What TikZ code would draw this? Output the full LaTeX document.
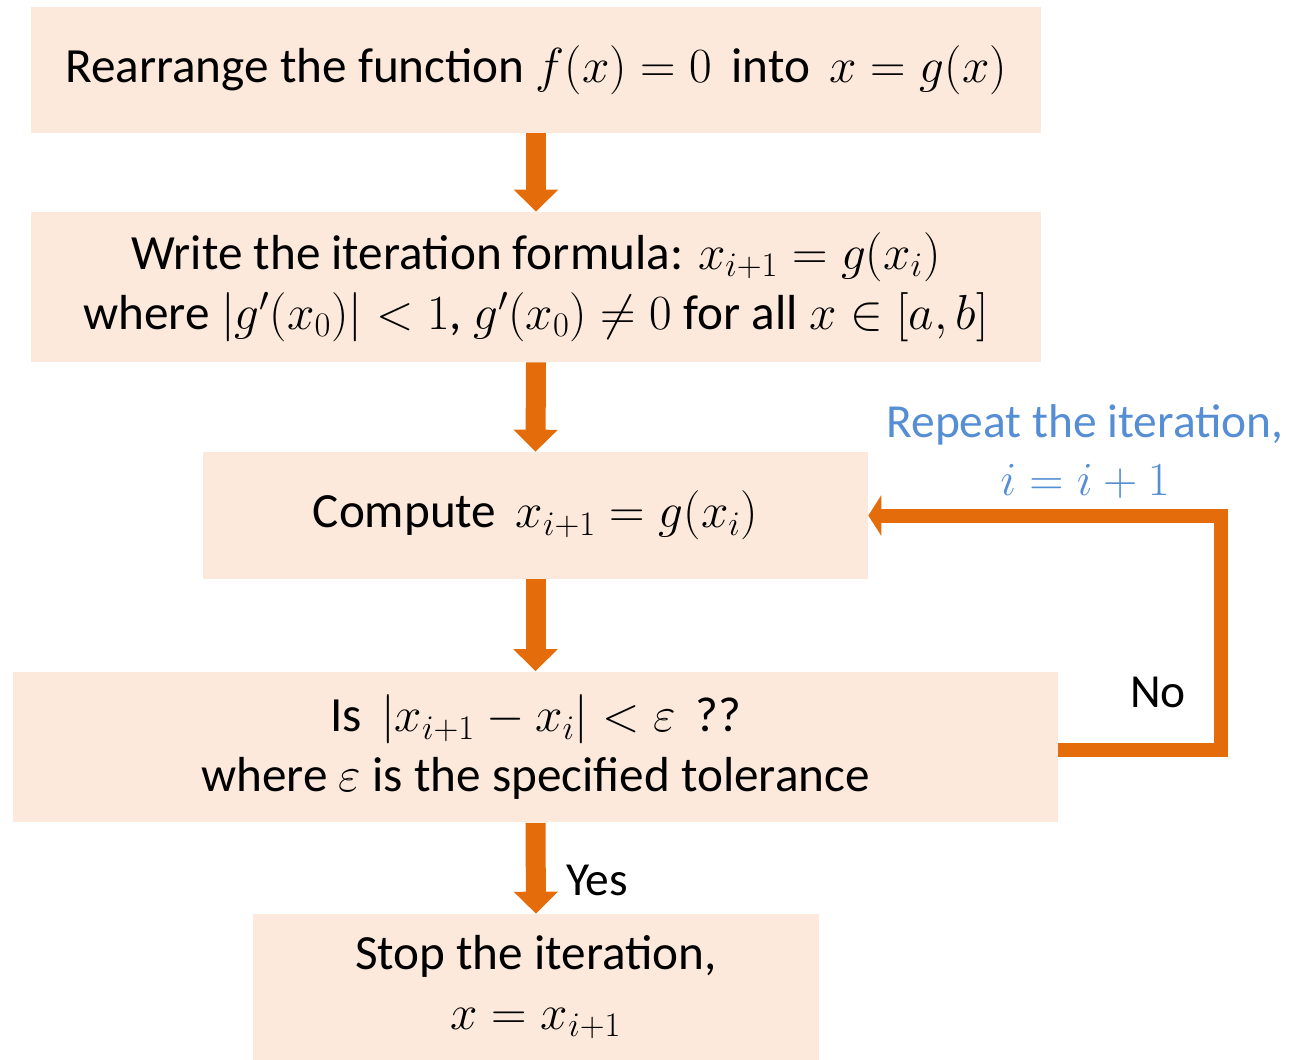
\RequirePackage{fix-cm}
\documentclass[tikz,border=0pt]{standalone}
\usepackage[no-math]{fontspec}
\setmainfont{Carlito}
\usepackage{amsmath, amssymb}
\usepackage{xcolor}
\usepackage{tikz}
\usetikzlibrary{arrows.meta, positioning}
\definecolor{boxfill}{HTML}{FCE9DB}
\definecolor{flowarr}{HTML}{E46C0A}
\definecolor{loopblue}{HTML}{558ED5}
\tikzset{
  stepbox/.style  = {rectangle, fill=boxfill, inner sep=2pt, align=center,
                     font=\fontsize{28}{34}\selectfont},
  down/.style     = {draw=flowarr, line width=0.4cm,
                     -{Triangle[width=0.86cm, length=0.44cm]}},
  back/.style     = {draw=flowarr, line width=0.28cm, line join=miter,
                     -{Triangle[width=0.8cm, length=0.26cm]}},
  tag/.style      = {font=\fontsize{27}{33}\selectfont, inner sep=0pt},
}
\begin{document}
\begin{tikzpicture}[x=0.02cm, y=-0.02cm]
  \useasboundingbox (0,0) rectangle (1289,1059);
  % ---- boxes
  \node[stepbox, minimum width=20.2cm, minimum height=2.52cm] (rearr) at (536,70)
    {Rearrange the function $f(x)=0$\, into\, $x=g(x)$};
  \node[stepbox, minimum width=20.2cm, minimum height=3.0cm] (formula) at (536,287)
    {Write the iteration formula: $x_{i+1}=g(x_i)$\\
     where $|g'(x_0)|<1$, $g'(x_0)\neq 0$ for all $x\in[a,b]$};
  \node[stepbox, minimum width=13.3cm, minimum height=2.54cm] (comp) at (535.5,515.5)
    {Compute\, $x_{i+1}=g(x_i)$};
  \node[stepbox, minimum width=20.9cm, minimum height=3.02cm] (check) at (535.5,747)
    {Is\, $|x_{i+1}-x_i|<\varepsilon$\, ??\\
     where $\varepsilon$ is the specified tolerance};
  \node[stepbox, minimum width=11.32cm, minimum height=2.92cm] (stop) at (536,987)
    {Stop the iteration,\\ $x=x_{i+1}$};
  % ---- arrows
  \draw[down] (rearr.south) -- (formula.north);
  \draw[down] (formula.south) -- (comp.north);
  \draw[down] (comp.south) -- (check.north);
  \draw[down] (check.south) -- (stop.north);
  % ---- loop back
  \draw[back] ([yshift=-0.06cm]check.east) -- ++(163,0) |- (comp.east);
  \node[tag] (no) at (1158,692) {No};
  \node[tag] (yes) at (597,880) {Yes};
  \node[tag, text=loopblue, align=center] (rep) at (1085,452)
    {Repeat the iteration,\\ $i=i+1$};
\end{tikzpicture}
\end{document}
